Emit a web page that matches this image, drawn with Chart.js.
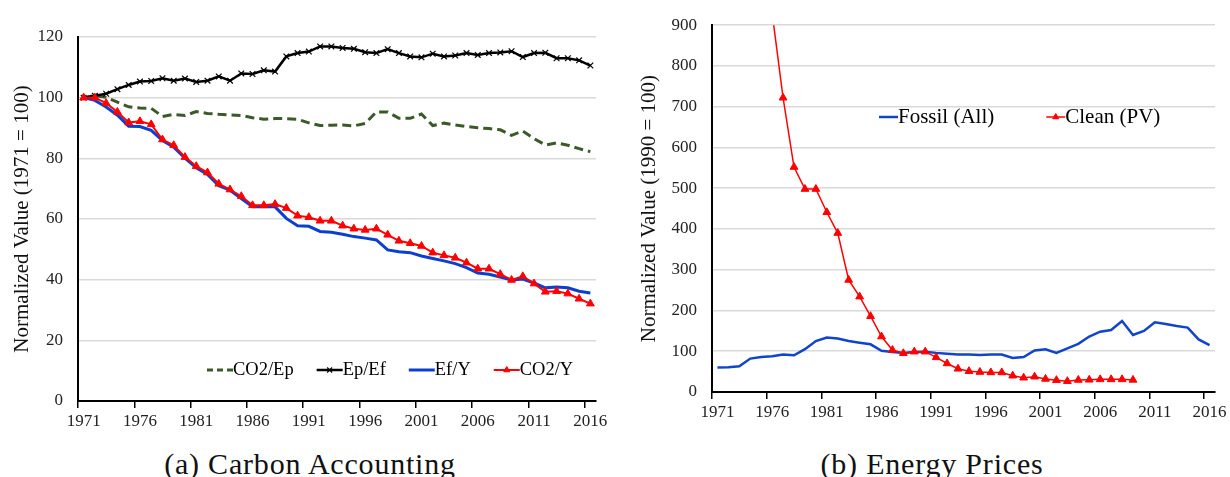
<!DOCTYPE html>
<html>
<head>
<meta charset="utf-8">
<script src="https://cdn.jsdelivr.net/npm/chart.js@4.4.1/dist/chart.umd.min.js"></script>
<style>
  body { margin: 0; background: #fff; width: 1230px; height: 477px; overflow: hidden; position: relative; }
  canvas { position: absolute; top: 0; }
  #left { left: 0; }
  #right { left: 615px; }
  .cap { position: absolute; top: 449px; font-family: "Liberation Serif", "Times New Roman", serif;
         font-size: 30px; line-height: 30px; letter-spacing: 0.8px; color: #111; text-align: center; white-space: nowrap; }
</style>
</head>
<body>
<canvas id="left" width="615" height="440"></canvas>
<canvas id="right" width="615" height="440"></canvas>
<div class="cap" style="left:0;width:620px">(a) Carbon Accounting</div>
<div class="cap" style="left:620px;width:624px">(b) Energy Prices</div>
<script>
years = [1971,1972,1973,1974,1975,1976,1977,1978,1979,1980,1981,1982,1983,1984,1985,1986,
         1987,1988,1989,1990,1991,1992,1993,1994,1995,1996,1997,1998,1999,2000,2001,2002,
         2003,2004,2005,2006,2007,2008,2009,2010,2011,2012,2013,2014,2015,2016];

// (a) carbon accounting, 1971 = 100
co2Ep = [100,100.7,100.1,98.5,97,96.6,96.5,93.8,94.5,94.1,95.4,94.8,94.5,94.3,94.1,93.4,
         92.9,93.1,93.1,92.9,91.7,90.8,90.9,91,90.7,91.5,95.3,95.3,93.2,93.2,94.6,90.8,
         91.6,91,90.5,90.1,89.8,89.4,87.6,89,86.5,84.4,85.1,84.3,83.2,82.2];
epEf = [100,100.6,101.3,102.8,104.2,105.3,105.5,106.4,105.6,106.3,105.2,105.6,107,105.6,108,107.8,
        109,108.6,113.6,114.7,115.2,116.9,116.9,116.4,116.1,115,114.7,116,114.7,113.6,113.3,114.5,
        113.6,113.9,114.7,114.1,114.7,114.9,115.3,113.4,114.7,114.8,113,113,112.3,110.6];
efY = [100,99.1,96.9,94.2,90.6,90.5,89.2,85.9,83.7,80.1,76.9,74.7,71,69.5,66.7,64,
       64,64,60.2,57.8,57.6,55.9,55.6,55,54.2,53.7,53.1,49.8,49.2,48.9,47.8,47,
       46.2,45.3,44,42.2,41.8,40.9,39.9,40.2,38.9,37.3,37.6,37.3,36.2,35.6];
co2Y = [100,100,98.2,95.3,91.8,92.2,91.2,86.2,84.3,80.4,77.4,75.3,71.6,69.7,67.5,64.5,
        64.5,64.9,63.6,61.1,60.6,59.4,59.4,57.8,56.8,56.4,56.8,54.8,52.8,52,51.1,48.9,
        48,47.2,45.6,43.6,43.6,41.8,39.9,41.1,38.7,36,36.2,35.4,33.7,32.1];

// (b) energy prices, 1990 = 100
fossil = [60,61,63,82,86,87.5,92,90,105,125,133.6,131,125,121,117,101,
          98,96,98,99,96,94,92,92,90.6,92,92,83.6,86,102,104.7,96,
          107,118,136,148,152,174,140,150,171,167,162,158,129,115];
cleanPV = [null,null,null,null,null,930,722,552,498,498,441,390,275,234,186,136,
           103,95,99,99,85,70,57,51,49,48,48,40,35,37.5,32,29,
           26.5,29.5,30,31,31,31,29.7,null,null,null,null,null,null,null];

serif = '"Liberation Serif", "Times New Roman", serif';

// legend drawn inside the plot, left to right
const insideLegend = {
  id: 'insideLegend',
  afterDraw(chart, args, o) {
    const ctx = chart.ctx;
    let x = o.x;
    ctx.save();
    ctx.font = o.size + 'px ' + serif;
    ctx.textBaseline = 'middle';
    chart.data.datasets.forEach(ds => {
      ctx.strokeStyle = ds.borderColor;
      ctx.lineWidth = ds.borderWidth;
      ctx.setLineDash(ds.borderDash ? [6, 4] : []);
      ctx.beginPath();
      ctx.moveTo(x, o.y);
      ctx.lineTo(x + o.sample, o.y);
      ctx.stroke();
      ctx.setLineDash([]);
      if (ds.pointStyle && ds.pointRadius) {
        ctx.fillStyle = ds.pointBackgroundColor;
        ctx.strokeStyle = ds.pointBorderColor;
        ctx.lineWidth = ds.pointBorderWidth;
        Chart.helpers.drawPoint(ctx, {pointStyle: ds.pointStyle, radius: 3.5, rotation: 0, borderWidth: ds.pointBorderWidth}, x + o.sample / 2, o.y);
      }
      x += o.sample;
      ctx.fillStyle = '#000';
      ctx.fillText(ds.label, x, o.y);
      x += ctx.measureText(ds.label).width + o.gap;
    });
    ctx.restore();
  }
};

function xAxis(h) {
  return {
    type: 'category',
    offset: true,
    afterFit: s => { s.height = h; },
    grid: {
      offset: true,
      drawOnChartArea: false,
      tickLength: 7,
      lineWidth: 1.5,
      color: c => c.index % 5 === 0 ? '#000' : 'rgba(0,0,0,0)'
    },
    border: { color: '#000', width: 2 },
    ticks: {
      autoSkip: false, maxRotation: 0, padding: 3, color: '#222',
      font: { family: serif, size: 17 },
      callback: function(v, i) { return i % 5 === 0 ? this.getLabelForValue(v) : ''; }
    }
  };
}

function yAxis(w, max, step, title, pad) {
  return {
    min: 0, max: max,
    afterFit: s => { s.width = w; },
    grid: { color: '#d9d9d9', lineWidth: 1.5, drawTicks: false },
    border: { color: '#000', width: 2 },
    ticks: { stepSize: step, padding: 15, color: '#222', font: { family: serif, size: 17 } },
    title: { display: true, text: title, color: '#111', padding: { top: pad, bottom: 0 },
             font: { family: serif, size: 21 } }
  };
}

new Chart(document.getElementById('left'), {
  type: 'line',
  data: {
    labels: years,
    datasets: [
      { label: 'CO2/Ep', data: co2Ep, borderColor: '#3a5a28', borderWidth: 3, borderDash: [9, 5],
        pointRadius: 0, order: 3 },
      { label: 'Ep/Ef', data: epEf, borderColor: '#000', borderWidth: 2.5, pointStyle: 'crossRot',
        pointRadius: 4, pointBorderWidth: 1.2, pointBorderColor: '#000', pointBackgroundColor: '#000', order: 2 },
      { label: 'Ef/Y', data: efY, borderColor: '#0b3fd0', borderWidth: 3, pointRadius: 0, order: 1 },
      { label: 'CO2/Y', data: co2Y, borderColor: '#ff0000', borderWidth: 2, pointStyle: 'triangle',
        pointRadius: 4.5, pointBorderWidth: 1, pointBorderColor: '#ff0000', pointBackgroundColor: '#ff0000', order: 0 }
    ]
  },
  options: {
    responsive: false, animation: false, devicePixelRatio: 1,
    layout: { padding: { left: 0, right: 19, top: 37, bottom: 0 } },
    plugins: {
      legend: { display: false }, tooltip: { enabled: false },
      insideLegend: { x: 207, y: 370, sample: 26, gap: 23, size: 18.5 }
    },
    scales: {
      x: xAxis(39),
      y: yAxis(78, 120, 20, 'Normalized Value (1971 = 100)', 9.5)
    }
  },
  plugins: [insideLegend]
});

new Chart(document.getElementById('right'), {
  type: 'line',
  data: {
    labels: years,
    datasets: [
      { label: 'Fossil (All)', data: fossil, borderColor: '#1044cc', borderWidth: 2.5, pointRadius: 0, order: 1 },
      { label: 'Clean (PV)', data: cleanPV, borderColor: '#ff0000', borderWidth: 1.5, pointStyle: 'triangle',
        pointRadius: 4.5, pointBorderWidth: 1, pointBorderColor: '#ff0000', pointBackgroundColor: '#ff0000', order: 0 }
    ]
  },
  options: {
    responsive: false, animation: false, devicePixelRatio: 1,
    layout: { padding: { left: 0, right: 15, top: 12, bottom: 0 } },
    plugins: {
      legend: { display: false }, tooltip: { enabled: false },
      insideLegend: { x: 264, y: 117, sample: 19, gap: 52, size: 21 }
    },
    scales: {
      x: xAxis(48),
      y: yAxis(97, 900, 100, 'Normalized Value (1990 = 100)', 21.5)
    }
  },
  plugins: [insideLegend]
});
</script>
</body>
</html>
